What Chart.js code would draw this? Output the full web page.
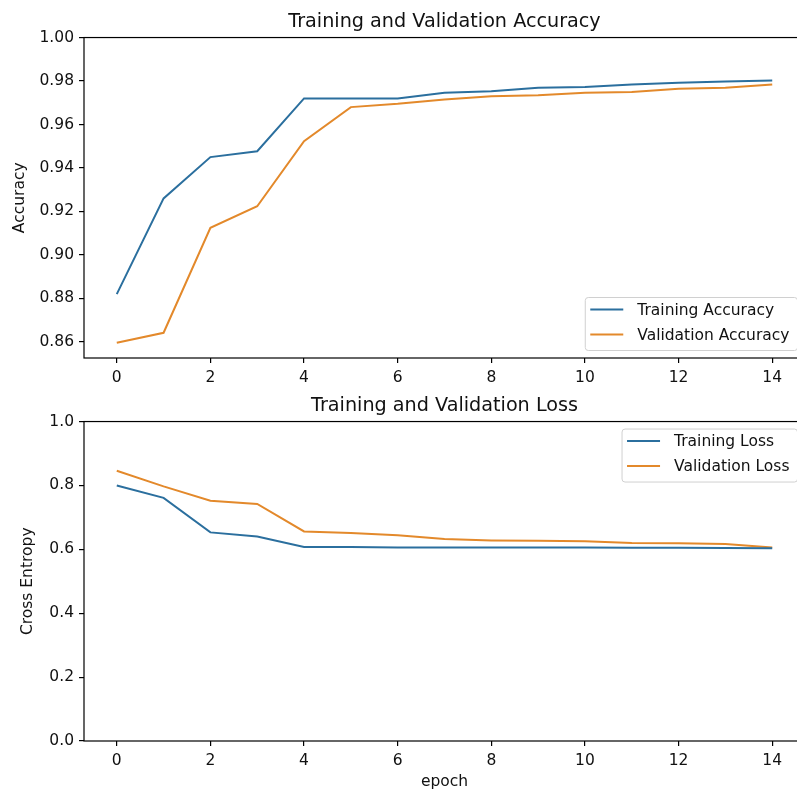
<!DOCTYPE html>
<html>
<head>
<meta charset="utf-8">
<script src="https://cdn.jsdelivr.net/npm/chart.js@4.4.1/dist/chart.umd.min.js"></script>
<style>
  html, body { margin: 0; padding: 0; background: #fff; overflow: hidden; width: 797px; height: 791px; }
  #accChart { position: absolute; left: 0; top: 0; }
  #lossChart { position: absolute; left: 0; top: 390px; }
</style>
</head>
<body>
<canvas id="accChart" width="890" height="390"></canvas>
<canvas id="lossChart" width="890" height="401"></canvas>
<script>
// values
const epochs = [0, 1, 2, 3, 4, 5, 6, 7, 8, 9, 10, 11, 12, 13, 14];
const trainAcc = [0.882, 0.926, 0.945, 0.9477, 0.972, 0.972, 0.972, 0.9746, 0.9753, 0.9769, 0.9773, 0.9784, 0.9792, 0.9798, 0.9802];
const valAcc = [0.8596, 0.8642, 0.9125, 0.9224, 0.9523, 0.968, 0.9695, 0.9715, 0.973, 0.9735, 0.9746, 0.9749, 0.9764, 0.9769, 0.9784];
const trainLoss = [0.800, 0.761, 0.653, 0.640, 0.607, 0.607, 0.606, 0.606, 0.606, 0.606, 0.606, 0.605, 0.605, 0.604, 0.603];
const valLoss = [0.846, 0.797, 0.752, 0.742, 0.656, 0.651, 0.644, 0.632, 0.628, 0.627, 0.625, 0.620, 0.619, 0.617, 0.606];

const xTicks = [0, 2, 4, 6, 8, 10, 12, 14];
const accTicks = [0.86, 0.88, 0.90, 0.92, 0.94, 0.96, 0.98, 1.00];
const lossTicks = [0.0, 0.2, 0.4, 0.6, 0.8, 1.0];

const blue = '#2b6f9e';
const orange = '#e3892b';
const FONT = 'DejaVu Sans';

Chart.defaults.font.family = FONT;
Chart.defaults.font.size = 15.5;
Chart.defaults.color = '#111';

const toPoints = vals => epochs.map((e, i) => ({ x: e, y: vals[i] }));

// top and right spines, matplotlib style
const frame = {
  id: 'frame',
  afterDraw(chart) {
    const { ctx, chartArea: a } = chart;
    ctx.save();
    ctx.strokeStyle = '#000';
    ctx.lineWidth = 1.2;
    ctx.strokeRect(a.left, a.top, a.right - a.left, a.bottom - a.top);
    ctx.restore();
  }
};

// legend drawn inside the axes
const boxLegend = {
  id: 'boxLegend',
  afterDraw(chart, args, opts) {
    const { ctx, chartArea: a } = chart;
    const items = chart.data.datasets;
    ctx.save();
    ctx.font = '15.5px "' + FONT + '"';
    const textW = Math.max(...items.map(d => ctx.measureText(d.label).width));
    const w = 52 + textW + 8, h = 53;
    const x = a.right - 7.5 - w;
    const y = opts.corner === 'bottom' ? a.bottom - 7.5 - h : a.top + 7.5;
    ctx.beginPath();
    ctx.roundRect(x, y, w, h, 3);
    ctx.fillStyle = 'rgba(255,255,255,0.85)';
    ctx.fill();
    ctx.strokeStyle = '#d0d0d0';
    ctx.lineWidth = 1;
    ctx.stroke();
    items.forEach((d, i) => {
      const ry = y + 12 + i * 25;
      ctx.beginPath();
      ctx.moveTo(x + 5, ry);
      ctx.lineTo(x + 38, ry);
      ctx.strokeStyle = d.borderColor;
      ctx.lineWidth = 2;
      ctx.stroke();
      ctx.fillStyle = '#111';
      ctx.textBaseline = 'middle';
      ctx.textAlign = 'left';
      ctx.fillText(d.label, x + 52, ry + 1);
    });
    ctx.restore();
  }
};

function makeChart(id, cfg) {
  return new Chart(document.getElementById(id), {
    type: 'line',
    data: {
      datasets: [{
        label: cfg.labels[0],
        data: toPoints(cfg.series[0]),
        borderColor: blue,
        borderWidth: 2,
        pointRadius: 0,
        tension: 0
      }, {
        label: cfg.labels[1],
        data: toPoints(cfg.series[1]),
        borderColor: orange,
        borderWidth: 2,
        pointRadius: 0,
        tension: 0
      }]
    },
    options: {
      responsive: false,
      animation: false,
      layout: { padding: { left: 0, top: 0, bottom: 0, right: 85 } },
      scales: {
        x: {
          type: 'linear',
          min: -0.7,
          max: 14.7,
          bounds: 'data',
          afterBuildTicks: s => { s.ticks = xTicks.map(v => ({ value: v })); },
          afterFit: s => { s.height = cfg.xHeight; },
          ticks: { autoSkip: false, maxRotation: 0, padding: 6, callback: v => String(v) },
          grid: { drawOnChartArea: false, drawTicks: true, tickLength: 5, color: '#000', lineWidth: 1.2 },
          border: { display: false },
          title: { display: !!cfg.xTitle, text: cfg.xTitle, padding: { top: 0, bottom: 0 } }
        },
        y: {
          min: cfg.yMin,
          max: cfg.yMax,
          bounds: 'data',
          afterBuildTicks: s => { s.ticks = cfg.yTicks.map(v => ({ value: v })); },
          afterFit: s => { s.width = 84; },
          ticks: { autoSkip: false, padding: 5, callback: v => v.toFixed(cfg.digits) },
          grid: { drawOnChartArea: false, drawTicks: true, tickLength: 5, color: '#000', lineWidth: 1.2 },
          border: { display: false },
          title: { display: true, text: cfg.yTitle, padding: { top: cfg.yTitlePad, bottom: 0 } }
        }
      },
      plugins: {
        legend: { display: false },
        tooltip: { enabled: false },
        title: {
          display: true,
          fullSize: false,
          text: cfg.title,
          color: '#111',
          font: { size: 19.2, weight: 'normal' },
          padding: { top: cfg.titleTop, bottom: 4.5 }
        },
        boxLegend: { corner: cfg.legendCorner }
      }
    },
    plugins: [frame, boxLegend]
  });
}

makeChart('accChart', {
  labels: ['Training Accuracy', 'Validation Accuracy'],
  series: [trainAcc, valAcc],
  title: 'Training and Validation Accuracy',
  yTitle: 'Accuracy',
  yTitlePad: 11,
  yMin: 0.8526,
  yMax: 1.0,
  yTicks: accTicks,
  digits: 2,
  xHeight: 32,
  xTitle: '',
  titleTop: 10,
  legendCorner: 'bottom'
});

makeChart('lossChart', {
  labels: ['Training Loss', 'Validation Loss'],
  series: [trainLoss, valLoss],
  title: 'Training and Validation Loss',
  yTitle: 'Cross Entropy',
  yTitlePad: 19,
  yMin: 0,
  yMax: 1.0,
  yTicks: lossTicks,
  digits: 1,
  xHeight: 50,
  xTitle: 'epoch',
  titleTop: 4,
  legendCorner: 'top'
});
</script>
</body>
</html>
